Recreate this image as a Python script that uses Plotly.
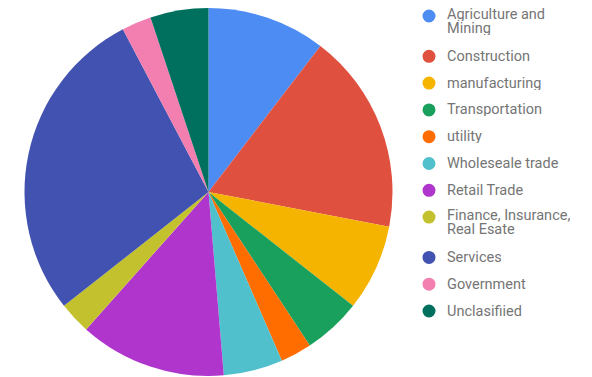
import plotly.graph_objects as go

labels = ["Agriculture and Mining", "Construction", "manufacturing", "Transportation",
          "utility", "Wholeseale trade", "Retail Trade", "Finance, Insurance, Real Esate",
          "Services", "Government", "Unclasifiied"]
legend_lines = [["Agriculture and", "Mining"], ["Construction"], ["manufacturing"],
                ["Transportation"], ["utility"], ["Wholeseale trade"], ["Retail Trade"],
                ["Finance, Insurance,", "Real Esate"], ["Services"], ["Government"],
                ["Unclasifiied"]]
values = [10.4, 17.6, 7.6, 5.1, 2.75, 5.2, 12.9, 2.8, 27.9, 2.6, 5.1]
colors = ["#4d8cf2", "#e0503f", "#f4b400", "#18a05c", "#ff6d00", "#50c0cc",
          "#b035cc", "#c3c22e", "#4152b0", "#f27fb0", "#00705e"]

W, H = 592, 377
OFF = 8  # page body margin offset


def px(x):
    return (x - OFF) / W


def py(y):
    return 1 - (y - OFF) / H


fig = go.Figure()
fig.add_trace(go.Pie(
    labels=labels, values=values, sort=False, direction="clockwise", rotation=0,
    marker=dict(colors=colors, line=dict(width=0)), textinfo="none",
    showlegend=False, hoverinfo="label+percent",
    domain=dict(x=[px(24.5), px(392.5)], y=[py(376), py(8)]),
))

# custom legend (circle markers + text)
shapes, annotations = [], []
ym = 16.0
r = 6.5
for lines, c in zip(legend_lines, colors):
    shapes.append(dict(type="circle", xref="paper", yref="paper",
                       x0=px(429 - r), x1=px(429 + r), y0=py(ym + r), y1=py(ym - r),
                       fillcolor=c, line=dict(width=0)))
    for k, t in enumerate(lines):
        yl = ym if len(lines) == 1 else ym - 1.5 + 14 * k
        annotations.append(dict(text=t, xref="paper", yref="paper", x=px(446), y=py(yl),
                                xanchor="left", yanchor="middle", showarrow=False,
                                height=13, borderpad=0, valign="middle",
                                font=dict(family="Roboto", size=14.5, color="#757575")))
    ym += 26.8 + 13.5 * (len(lines) - 1)

fig.update_layout(
    width=W, height=H, margin=dict(l=0, r=0, t=0, b=0),
    paper_bgcolor="white", plot_bgcolor="white",
    shapes=shapes, annotations=annotations,
    font=dict(family="Roboto"),
)
fig.write_html("out.html")
